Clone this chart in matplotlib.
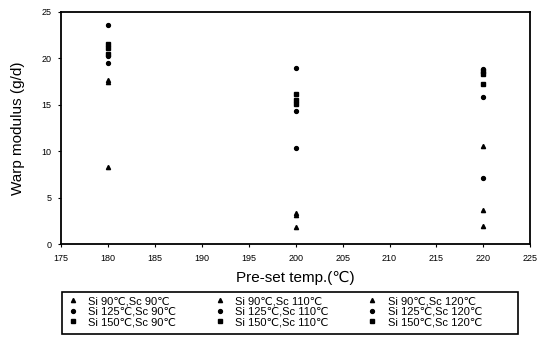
import matplotlib
matplotlib.use("Agg")
import matplotlib.pyplot as plt
from matplotlib.patches import Rectangle

plt.rcParams['font.family'] = ['Liberation Sans', 'DejaVu Sans']

temps = [180, 200, 220]
labels = ["Si 90\u2103,Sc 90\u2103", "Si 125\u2103,Sc 90\u2103", "Si 150\u2103,Sc 90\u2103",
          "Si 90\u2103,Sc 110\u2103", "Si 125\u2103,Sc 110\u2103", "Si 150\u2103,Sc 110\u2103",
          "Si 90\u2103,Sc 120\u2103", "Si 125\u2103,Sc 120\u2103", "Si 150\u2103,Sc 120\u2103"]
markers = ["^", "o", "s", "^", "o", "s", "^", "o", "s"]

si90_sc90 = [8.3, 1.8, 2.0]
si125_sc90 = [23.6, 10.3, 7.1]
si150_sc90 = [21.5, 15.1, 17.2]
si90_sc110 = [17.4, 3.1, 3.7]
si125_sc110 = [19.5, 14.3, 15.8]
si150_sc110 = [21.1, 15.5, 18.3]
si90_sc120 = [17.7, 3.3, 10.6]
si125_sc120 = [20.2, 19.0, 18.9]
si150_sc120 = [20.5, 16.2, 18.6]
series = [si90_sc90, si125_sc90, si150_sc90, si90_sc110, si125_sc110, si150_sc110,
          si90_sc120, si125_sc120, si150_sc120]

fig = plt.figure(figsize=(5.42, 3.40), dpi=100)
ax = fig.add_axes([0.1125, 0.282, 0.866, 0.683])

for vals, m, lab in zip(series, markers, labels):
    ms = 3.0 if m == "^" else 2.8
    ax.plot(temps, vals, linestyle="none", marker=m, color="black", markersize=ms, label=lab)

ax.set_xlim(175, 225)
ax.set_ylim(0, 25)
ax.set_xticks(range(175, 226, 5))
ax.set_yticks(range(0, 26, 5))
ax.tick_params(labelsize=6.5, length=2, width=0.8, direction="out", pad=5)
for s in ax.spines.values():
    s.set_linewidth(1.3)
    s.set_color("black")
ax.set_xlabel("Pre-set temp.(\u2103)", fontsize=11, labelpad=6)
ax.set_ylabel("Warp modulus (g/d)", fontsize=11, labelpad=12)

# legend frame
fig.patches.append(Rectangle((62/542, 1 - 334/340), (518-62)/542, 42/340,
                             transform=fig.transFigure, fill=False,
                             edgecolor="black", linewidth=1.2))

handles, labs = ax.get_legend_handles_labels()
leg = fig.legend(handles, labs, ncol=3, loc="upper left",
                 bbox_to_anchor=(66/542, 1 - 296/340),
                 fontsize=8, frameon=False,
                 borderpad=0, labelspacing=0.05, handlelength=1.2, handletextpad=0.8,
                 columnspacing=3.3, borderaxespad=0)

fig.savefig("out.png", dpi=100)
